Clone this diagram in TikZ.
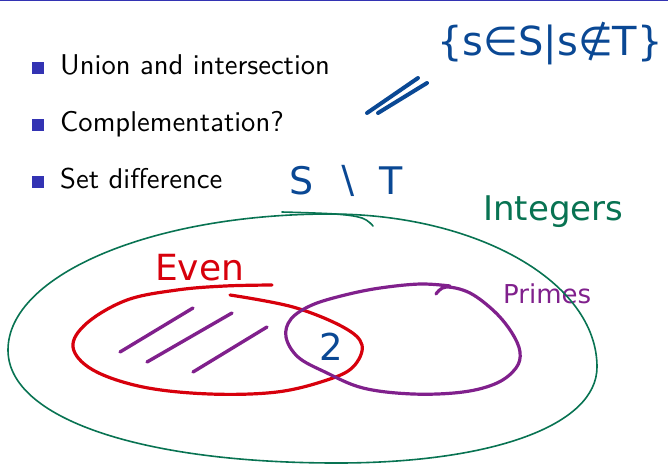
\documentclass[tikz,border=0pt]{standalone}
\usepackage{fontspec}
\newfontfamily\handfont{DejaVu Sans}
\newfontfamily\slidefont{lmsans10-regular}[Extension=.otf]
\definecolor{struct}{RGB}{51,51,179}
\definecolor{inkblue}{RGB}{10,72,148}
\definecolor{inkgreen}{RGB}{8,115,82}
\definecolor{inkred}{RGB}{215,0,12}
\definecolor{inkpurple}{RGB}{128,32,140}
\begin{document}
\begin{tikzpicture}[x=1pt,y=-1pt,
  bulletsq/.style={fill=struct,minimum size=12pt,inner sep=0,draw=none},
  itemtext/.style={anchor=base west,inner sep=0,font=\slidefont\fontsize{28.6}{34}\selectfont,text=black},
  hand/.style={inner sep=0,font=\handfont},
  pen/.style={line cap=round,line join=round},
  ]
\useasboundingbox (0,0) rectangle (668,464);
\draw[struct,line width=1.2pt] (0,0.6) -- (668,0.6);
% bullets
\node[bulletsq] (b1) at (37.5,67.5) {};
\node[bulletsq] (b2) at (37.5,124.5) {};
\node[bulletsq] (b3) at (37.5,181.5) {};
\node[itemtext] (t1) at (60,74) {Union and intersection};
\node[itemtext] (t2) at (60,131) {Complementation?};
\node[itemtext] (t3) at (60,188) {Set difference};
% handwritten annotations
\node[hand,anchor=base,text=inkblue,font=\handfont\fontsize{40}{44}\selectfont] (setdef) at (550,55) {\{s∈S|s∉T\}};
\draw[pen,inkblue,line width=4pt] (367,113) -- (418,78);
\draw[pen,inkblue,line width=4pt] (378,113) -- (427,83);
\node[hand,anchor=base,text=inkblue,font=\handfont\fontsize{38}{42}\selectfont] (sdiff) at (346,194) {S\hspace{0.55em}∖\hspace{0.55em}T};
\node[hand,anchor=base west,text=inkgreen,font=\handfont\fontsize{34}{40}\selectfont] (integers) at (483,220) {Integers};
\node[hand,anchor=base west,text=inkred,font=\handfont\fontsize{36}{40}\selectfont] (even) at (155,280) {Even};
\node[hand,anchor=base west,text=inkpurple,font=\handfont\fontsize{26}{30}\selectfont] (primes) at (503,303) {Primes};
\node[hand,anchor=base,text=inkblue,font=\handfont\fontsize{37}{40}\selectfont] (two) at (331,360) {2};
% green underline stroke
\draw[pen,inkgreen,line width=1.6pt] plot[smooth,tension=0.6] coordinates {(282,212) (335,214) (362,218) (373,226)};
% integers ellipse
\coordinate (gl) at (8,350);
\coordinate (gt) at (330,214);
\coordinate (gr) at (597,367);
\coordinate (gb) at (337,463);
\draw[pen,inkgreen,line width=1.6pt] (gl) .. controls (8,275) and (152,214) .. (gt)
  .. controls (477,214) and (597,282) .. (gr)
  .. controls (597,425) and (493,463) .. (gb)
  .. controls (140,463) and (8,418) .. (gl) -- cycle;
% even set
\draw[pen,inkred,line width=3.2pt] plot[smooth,tension=0.6] coordinates {(230,295) (293,307) (343,327) (362,345) (353,367) (327,380) (277,392) (210,394) (143,387) (93,370) (73,347) (87,323) (127,300) (177,290) (225,286) (272,285)};
% primes set
\draw[pen,inkpurple,line width=3.2pt] plot[smooth,tension=0.6] coordinates {(436,294) (446,287) (470,293) (495,312) (512,333) (520,352) (516,368) (497,383) (463,392) (413,394) (363,388) (325,372) (298,357) (286,337) (291,319) (312,305) (345,295) (380,288) (420,284) (450,286)};
% hatching
\draw[pen,inkpurple,line width=3.4pt] (120,352) -- (193,308);
\draw[pen,inkpurple,line width=3.4pt] (147,362) -- (232,313);
\draw[pen,inkpurple,line width=3.4pt] (193,372) -- (267,327);
\end{tikzpicture}
\end{document}
